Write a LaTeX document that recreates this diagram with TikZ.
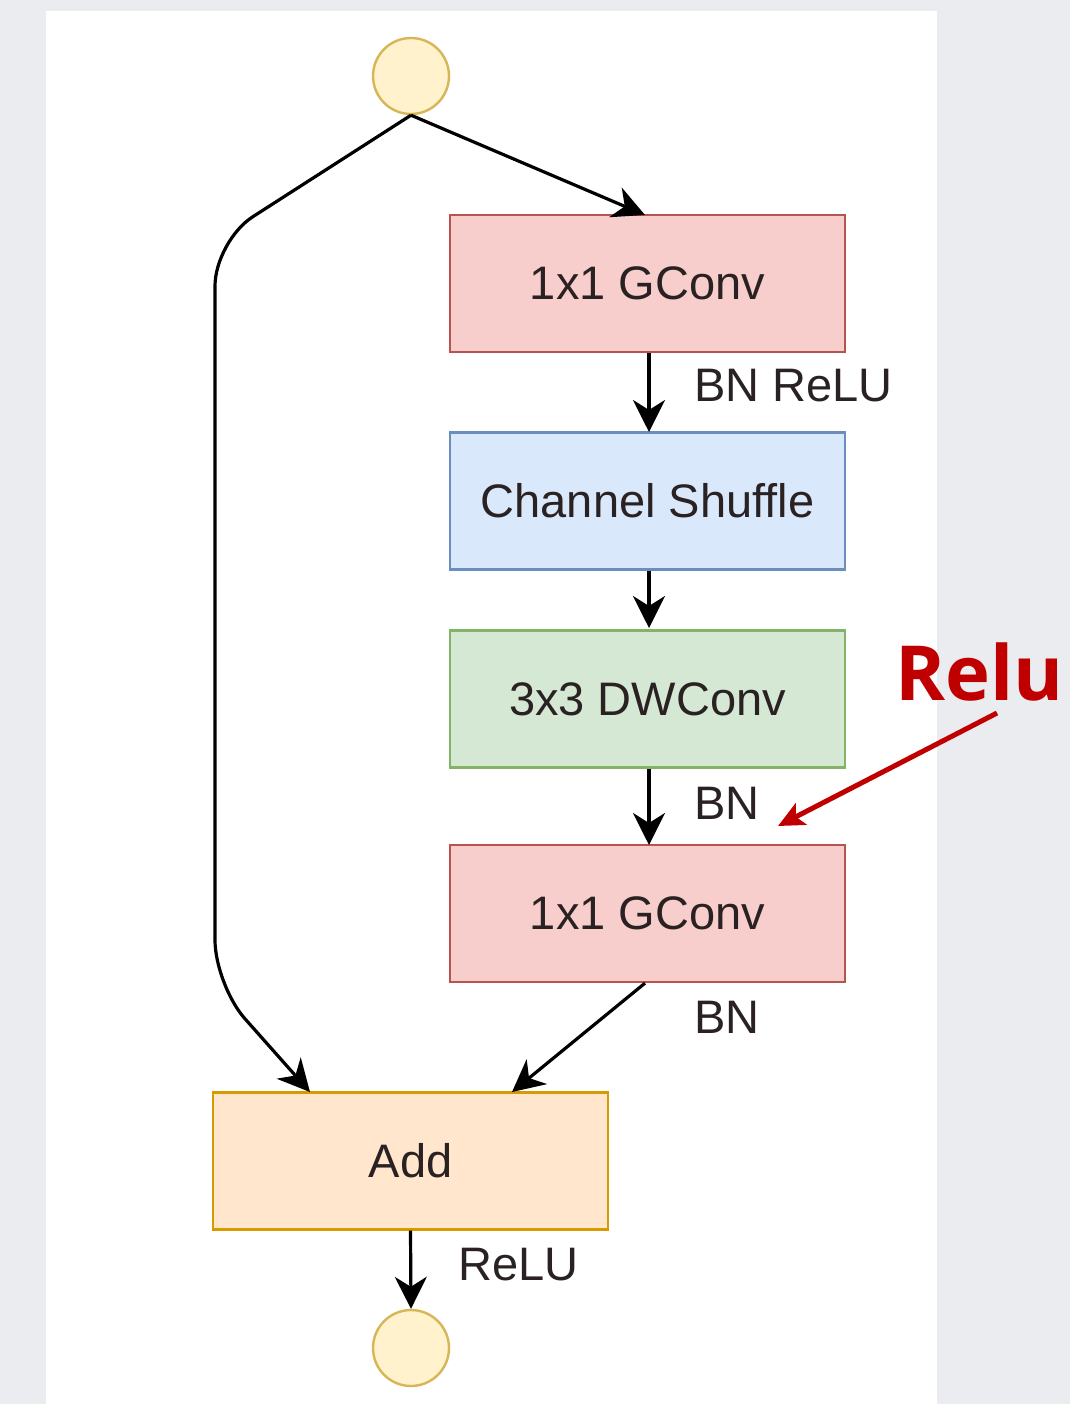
\documentclass[tikz,border=0pt]{standalone}
\usepackage{fontspec}
\setmainfont{Liberation Sans}
\newfontfamily\relufont{Open Sans}
\usetikzlibrary{arrows.meta}
\definecolor{pagebg}{HTML}{EBECF0}
\definecolor{redfill}{HTML}{F8CECC}\definecolor{redline}{HTML}{B85450}
\definecolor{bluefill}{HTML}{DAE8FC}\definecolor{blueline}{HTML}{6C8EBF}
\definecolor{greenfill}{HTML}{D5E8D4}\definecolor{greenline}{HTML}{82B366}
\definecolor{orangefill}{HTML}{FFE6CC}\definecolor{orangeline}{HTML}{D79B00}
\definecolor{yelfill}{HTML}{FFF2CC}\definecolor{yelline}{HTML}{D6B656}
\definecolor{txt}{HTML}{2A2222}
\definecolor{relured}{HTML}{C00000}
\begin{document}
\begin{tikzpicture}[x=1pt,y=-1pt,
  blockbox/.style={draw, line width=2.2pt, minimum width=395pt, minimum height=137pt, inner sep=0pt, font=\fontsize{47}{52}\selectfont, text=txt},
  io/.style={circle, draw=yelline, fill=yelfill, line width=2.4pt, minimum size=76pt, inner sep=0pt},
  conn/.style={line width=3.2pt, draw=black, -{Stealth[length=32pt,width=32pt,inset=10pt]}},
  lbl/.style={anchor=west, font=\fontsize{47}{52}\selectfont, text=txt, inner sep=0pt}]
\useasboundingbox (0,0) rectangle (1070,1404);
\fill[pagebg] (0,0) rectangle (1070,1404);
\fill[white] (46,11) rectangle (937,1404);
\node[io] (top) at (411,76) {};
\node[io] (bot) at (411,1348) {};
\node[blockbox, fill=redfill, draw=redline] (g1) at (647.5,283.5) {1x1 GConv};
\node[blockbox, fill=bluefill, draw=blueline] (cs) at (647.5,501) {Channel Shuffle};
\node[blockbox, fill=greenfill, draw=greenline] (dw) at (647.5,699) {3x3 DWConv};
\node[blockbox, fill=redfill, draw=redline] (g2) at (647.5,913.5) {1x1 GConv};
\node[blockbox, fill=orangefill, draw=orangeline] (add) at (410.5,1161) {Add};
\node[lbl] (l1) at (694,386) {BN ReLU};
\node[lbl] (l2) at (694,803) {BN};
\node[lbl] (l3) at (694,1017) {BN};
\node[lbl] (l4) at (458,1265) {ReLU};
\node[anchor=west, inner sep=0pt, text=relured, font=\relufont\bfseries\fontsize{76}{86}\selectfont] (relu) at (895,672) {Relu};
\coordinate (rs) at (997,713);
\coordinate (re) at (778,826);
\draw[conn] (top.south) -- (645,215);
\draw[conn, rounded corners=45pt] (top.south) -- (215,241) -- (215,985) -- (310,1092);
\draw[conn] (g1.south -| 649,0) -- (649,432);
\draw[conn] (cs.south -| 649,0) -- (649,628);
\draw[conn] (dw.south -| 649,0) -- (649,845);
\draw[conn] (g2.south -| 645,0) -- (512,1092);
\draw[conn] (add.south) -- (bot.north);
\draw[line width=5pt, draw=relured, -{Stealth[length=26pt,width=24pt,inset=6pt]}] (rs) -- (re);
\end{tikzpicture}
\end{document}
